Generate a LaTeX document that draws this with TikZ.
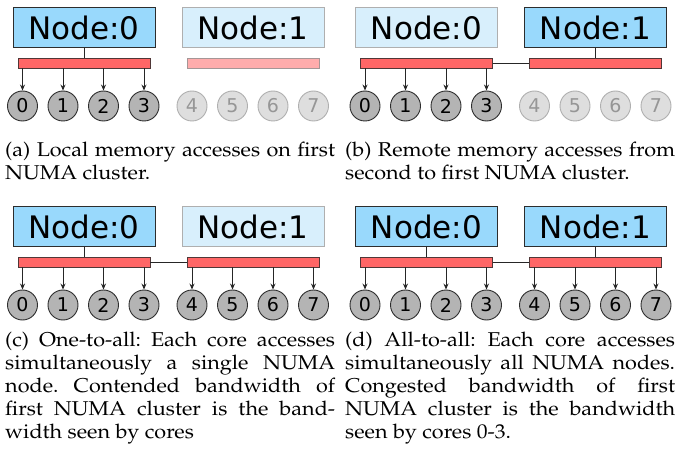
\documentclass[tikz,border=0pt]{standalone}
\usepackage{graphicx}
\usepackage{fontspec}
\usepackage[T1,TU]{fontenc}
\newfontfamily\dvsans{DejaVu Sans}
\newcommand\capfont{\fontencoding{T1}\fontfamily{ppl}\fontsize{20}{23}\selectfont\frenchspacing}
\usetikzlibrary{arrows.meta}
\definecolor{nodeon}{RGB}{153,217,252}
\definecolor{nodeoff}{RGB}{216,239,252}
\definecolor{edgeon}{RGB}{45,45,45}
\definecolor{edgeoff}{RGB}{175,175,175}
\definecolor{buson}{RGB}{255,102,102}
\definecolor{busoff}{RGB}{255,172,172}
\definecolor{busedge}{RGB}{80,55,55}
\definecolor{busedgeoff}{RGB}{165,150,150}
\definecolor{coreon}{RGB}{180,180,180}
\definecolor{coreoff}{RGB}{222,222,222}
\definecolor{coretextoff}{RGB}{150,150,150}
\tikzset{
  numa on/.style={draw=edgeon, fill=nodeon, line width=0.9pt, minimum width=142pt, minimum height=40pt, inner sep=0pt, font={\dvsans\fontsize{31}{31}\selectfont}},
  numa off/.style={draw=edgeoff, fill=nodeoff, line width=0.9pt, minimum width=142pt, minimum height=40pt, inner sep=0pt, font={\dvsans\fontsize{31}{31}\selectfont}, text=black},
  bus on/.style={draw=busedge, fill=buson, line width=0.9pt, minimum width=132pt, minimum height=10pt, inner sep=0pt},
  bus off/.style={draw=busedgeoff, fill=busoff, line width=0.9pt, minimum width=132pt, minimum height=10pt, inner sep=0pt},
  core on/.style={circle, draw=edgeon, fill=coreon, line width=0.9pt, minimum size=30pt, inner sep=0pt, font={\dvsans\fontsize{19}{19}\selectfont}},
  core off/.style={circle, draw=edgeoff, fill=coreoff, line width=0.9pt, minimum size=30pt, inner sep=0pt, text=coretextoff, font={\dvsans\fontsize{19}{19}\selectfont}},
  wire/.style={draw=black!85, line width=0.9pt},
  arr/.style={draw=black!85, line width=0.9pt, -{Stealth[length=6pt,width=5pt]}},
  capstyle/.style={anchor=base west, inner sep=0pt, font=\capfont},
}
\newcommand\jline[1]{\scalebox{1.08}[1]{\makebox[305.5pt][s]{#1}}}
\newcommand\nline[1]{\scalebox{1.08}[1]{#1}}
\begin{document}
\begin{tikzpicture}[x=1pt,y=-1pt]
\useasboundingbox (0,0) rectangle (680,449);
\fill[white] (0,0) rectangle (680,449);
% ---------- (a)
\begin{scope}[shift={(0,0)}]
\node[numa on] (a-n0) at (84,27.5) {Node:0};
\node[numa off] (a-n1) at (253,27.5) {Node:1};
\node[bus on] (a-b0) at (84,63) {};
\node[bus off] (a-b1) at (253,63) {};
\foreach \i/\x in {0/22.5,1/63,2/103.5,3/144} \node[core on] (a-c\i) at (\x,106) {\i};
\foreach \i/\x in {4/192,5/232.5,6/273,7/313.5} \node[core off] (a-c\i) at (\x,106) {\i};
\draw[wire] (a-n0) -- (a-b0);
\foreach \i in {0,...,3} \draw[arr] (a-b0.south -| a-c\i) -- (a-c\i);
\end{scope}
% ---------- (b)
\begin{scope}[shift={(342.5,0)}]
\node[numa off] (b-n0) at (84,27.5) {Node:0};
\node[numa on] (b-n1) at (253,27.5) {Node:1};
\node[bus on] (b-b0) at (84,63) {};
\node[bus on] (b-b1) at (253,63) {};
\foreach \i/\x in {0/22.5,1/63,2/103.5,3/144} \node[core on] (b-c\i) at (\x,106) {\i};
\foreach \i/\x in {4/192,5/232.5,6/273,7/313.5} \node[core off] (b-c\i) at (\x,106) {\i};
\draw[wire] (b-n1) -- (b-b1);
\draw[wire] (b-b0) -- (b-b1);
\foreach \i in {0,...,3} \draw[arr] (b-b0.south -| b-c\i) -- (b-c\i);
\end{scope}
% ---------- (c)
\begin{scope}[shift={(0,199)}]
\node[numa on] (c-n0) at (84,27.5) {Node:0};
\node[numa off] (c-n1) at (253,27.5) {Node:1};
\node[bus on] (c-b0) at (84,63) {};
\node[bus on] (c-b1) at (253,63) {};
\foreach \i/\x in {0/22.5,1/63,2/103.5,3/144,4/192,5/232.5,6/273,7/313.5} \node[core on] (c-c\i) at (\x,106) {\i};
\draw[wire] (c-n0) -- (c-b0);
\draw[wire] (c-b0) -- (c-b1);
\foreach \i in {0,...,3} \draw[arr] (c-b0.south -| c-c\i) -- (c-c\i);
\foreach \i in {4,...,7} \draw[arr] (c-b1.south -| c-c\i) -- (c-c\i);
\end{scope}
% ---------- (d)
\begin{scope}[shift={(342.5,199)}]
\node[numa on] (d-n0) at (84,27.5) {Node:0};
\node[numa on] (d-n1) at (253,27.5) {Node:1};
\node[bus on] (d-b0) at (84,63) {};
\node[bus on] (d-b1) at (253,63) {};
\foreach \i/\x in {0/22.5,1/63,2/103.5,3/144,4/192,5/232.5,6/273,7/313.5} \node[core on] (d-c\i) at (\x,106) {\i};
\draw[wire] (d-n0) -- (d-b0);
\draw[wire] (d-n1) -- (d-b1);
\draw[wire] (d-b0) -- (d-b1);
\foreach \i in {0,...,3} \draw[arr] (d-b0.south -| d-c\i) -- (d-c\i);
\foreach \i in {4,...,7} \draw[arr] (d-b1.south -| d-c\i) -- (d-c\i);
\end{scope}
% ---------- captions
\node[capstyle] (capa1) at (5,157) {\jline{(a) Local memory accesses on first}};
\node[capstyle] (capa2) at (5,180) {\nline{NUMA cluster.}};
\node[capstyle] (capb1) at (345,157) {\jline{(b) Remote memory accesses from}};
\node[capstyle] (capb2) at (345,180) {\nline{second to first NUMA cluster.}};
\node[capstyle] (capc1) at (5,346) {\jline{(c) One-to-all: Each core accesses}};
\node[capstyle] (capc2) at (5,369) {\jline{simultaneously a single NUMA}};
\node[capstyle] (capc3) at (5,392) {\jline{node. Contended bandwidth of}};
\node[capstyle] (capc4) at (5,415) {\jline{first NUMA cluster is the band-}};
\node[capstyle] (capc5) at (5,438) {\nline{width seen by cores}};
\node[capstyle] (capd1) at (345,346) {\jline{(d) All-to-all: Each core accesses}};
\node[capstyle] (capd2) at (345,369) {\jline{simultaneously all NUMA nodes.}};
\node[capstyle] (capd3) at (345,392) {\jline{Congested bandwidth of first}};
\node[capstyle] (capd4) at (345,415) {\jline{NUMA cluster is the bandwidth}};
\node[capstyle] (capd5) at (345,438) {\nline{seen by cores 0-3.}};
\end{tikzpicture}
\end{document}
